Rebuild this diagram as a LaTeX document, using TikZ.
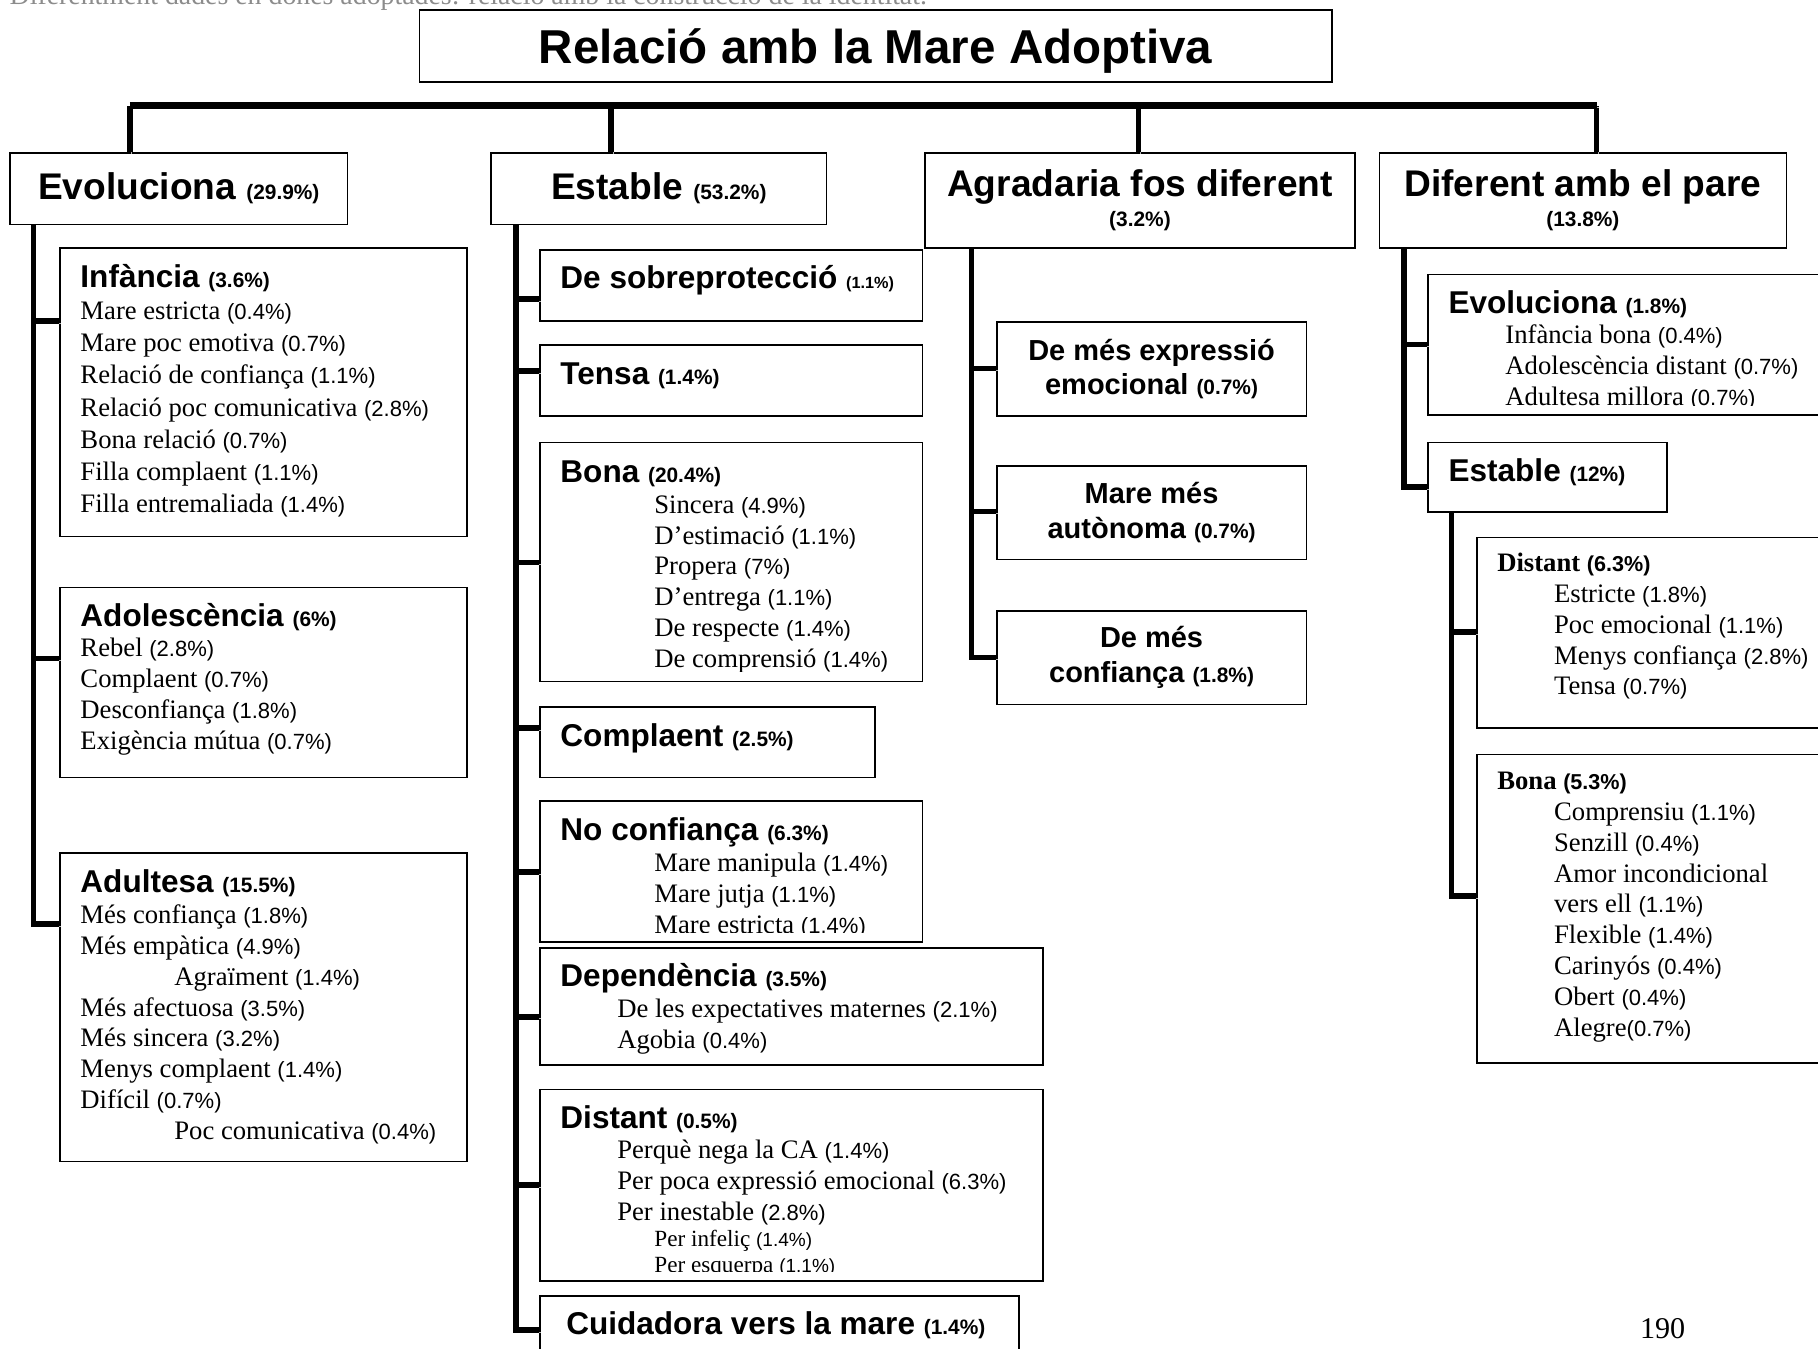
\documentclass[tikz,border=0pt]{standalone}
\usepackage{fontspec}
\setmainfont{Liberation Serif}
\setsansfont{Liberation Sans}
\usetikzlibrary{calc}
\newcommand\bpct[2][9]{{\sffamily\bfseries\fontsize{#1}{#1}\selectfont(#2\%)}}
\newcommand\pct[2][9.5]{{\sffamily\fontsize{#1}{#1}\selectfont(#2\%)}}
\newcommand\hd[3][9]{{\sffamily\bfseries\fontsize{13.6}{13.3}\selectfont#2 \bpct[#1]{#3}}}
\newcommand\shd[2]{{\bfseries#1 \bpct[9.3]{#2}}}
\newcommand\minorline[2]{{\fontsize{10}{10}\selectfont#1 \pct[8.2]{#2}}}
\newcommand\inda{\hspace*{24.5pt}}
\newcommand\indb{\hspace*{40.5pt}}
\tikzset{
    box/.style={draw, line width=0.7pt, anchor=north west, inner sep=0pt},
    wh/.style 2 args={minimum width=#1*0.5pt, minimum height=#2*0.5pt},
    link/.style={line width=2.4pt, preaction={draw=black!30, transform canvas={shift={(0.9pt,-0.9pt)}}}},
    branch/.style={font=\sffamily\bfseries\fontsize{16}{13}\selectfont},
    leaf/.style={font=\sffamily\bfseries\fontsize{12.5}{15}\selectfont, align=center},
    entries/.style={anchor=base west, inner sep=0pt, text width=260pt, align=flush left, font=\fontsize{11.5}{13.3}\selectfont}
}
\begin{document}
\begin{tikzpicture}[x=0.5pt, y=-0.5pt]
\useasboundingbox (0,0) rectangle (1568,1163);

% page header, cut by the page edge
\node[anchor=base west, inner sep=0pt, text=black!45, font=\fontsize{12}{14}\selectfont] (header) at (8,4) {Diferentment dades en dones adoptades: relació amb la construcció de la identitat.};

\node[box, wh={787}{62}, text depth=0pt, font=\sffamily\bfseries\fontsize{20.5}{24}\selectfont] (title) at (361,8) {Relació amb la Mare Adoptiva};

% first level
\node[box, wh={291}{62}, branch] (evo) at (8,131) {Evoluciona \bpct{29.9}};
\node[box, wh={289}{62}, branch] (est) at (423,131) {Estable \bpct{53.2}};
\node[box, wh={371}{82}, branch, align=center] (agr) at (797,131) {Agradaria fos diferent\\\bpct{3.2}};
\node[box, wh={351}{82}, branch, align=center] (dif) at (1189,131) {Diferent amb el pare\\\bpct{13.8}};

% Evoluciona
\node[box, wh={351}{249}] (inf) at (51,213) {};
\node[entries, font=\fontsize{11.5}{13.85}\selectfont] (inf-t) at ($(inf.north west)+(18,35)$) {\hd{Infància}{3.6}\\
    Mare estricta \pct{0.4}\\
    Mare poc emotiva \pct{0.7}\\
    Relació de confiança \pct{1.1}\\
    Relació poc comunicativa \pct{2.8}\\
    Bona relació \pct{0.7}\\
    Filla complaent \pct{1.1}\\
    Filla entremaliada \pct{1.4}};
\node[box, wh={351}{164}] (ado) at (51,506) {};
\node[entries] (ado-t) at ($(ado.north west)+(18,34)$) {\hd{Adolescència}{6}\\
    Rebel \pct{2.8}\\
    Complaent \pct{0.7}\\
    Desconfiança \pct{1.8}\\
    Exigència mútua \pct{0.7}};
\node[box, wh={351}{266}] (adu) at (51,735) {};
\node[entries] (adu-t) at ($(adu.north west)+(18,35)$) {\hd{Adultesa}{15.5}\\
    Més confiança \pct{1.8}\\
    Més empàtica \pct{4.9}\\
    \indb Agraïment \pct{1.4}\\
    Més afectuosa \pct{3.5}\\
    Més sincera \pct{3.2}\\
    Menys complaent \pct{1.4}\\
    Difícil \pct{0.7}\\
    \indb Poc comunicativa \pct{0.4}};

% Estable
\node[box, wh={330}{61}] (sob) at (465,215) {};
\node[entries] (sob-t) at ($(sob.north west)+(18,34)$) {\hd[7]{De sobreprotecció}{1.1}};
\node[box, wh={330}{61}] (ten) at (465,297) {};
\node[entries] (ten-t) at ($(ten.north west)+(18,35)$) {\hd{Tensa}{1.4}};
\node[box, wh={330}{206}] (bon) at (465,381) {};
\begin{scope}
    \clip (bon.north west) rectangle ($(bon.south east)+(0,-9)$);
    \node[entries] (bon-t) at ($(bon.north west)+(18,35)$) {\hd{Bona}{20.4}\\
        \indb Sincera \pct{4.9}\\
        \indb D’estimació \pct{1.1}\\
        \indb Propera \pct{7}\\
        \indb D’entrega \pct{1.1}\\
        \indb De respecte \pct{1.4}\\
        \indb De comprensió \pct{1.4}};
\end{scope}
\node[box, wh={289}{61}] (com) at (465,609) {};
\node[entries] (com-t) at ($(com.north west)+(18,35)$) {\hd{Complaent}{2.5}};
\node[box, wh={330}{122}] (noc) at (465,690) {};
\begin{scope}
    \clip (noc.north west) rectangle ($(noc.south east)+(0,-9)$);
    \node[entries] (noc-t) at ($(noc.north west)+(18,35)$) {\hd{No confiança}{6.3}\\
        \indb Mare manipula \pct{1.4}\\
        \indb Mare jutja \pct{1.1}\\
        \indb Mare estricta \pct{1.4}};
\end{scope}
\node[box, wh={434}{101}] (dep) at (465,817) {};
\node[entries] (dep-t) at ($(dep.north west)+(18,34)$) {\hd{Dependència}{3.5}\\
    \inda De les expectatives maternes \pct{2.1}\\
    \inda Agobia \pct{0.4}};
\node[box, wh={434}{165}] (dis) at (465,939) {};
\begin{scope}
    \clip (dis.north west) rectangle ($(dis.south east)+(0,-9)$);
    \node[entries] (dis-t) at ($(dis.north west)+(18,34)$) {\hd{Distant}{0.5}\\
        \inda Perquè nega la CA \pct{1.4}\\
        \inda Per poca expressió emocional \pct{6.3}\\
        \inda Per inestable \pct{2.8}\\[-2.2pt]
        \indb\minorline{Per infeliç}{1.4}\\[-2.2pt]
        \indb\minorline{Per esquerpa}{1.1}};
\end{scope}
\node[box, wh={413}{80}] (cui) at (465,1117) {};
\node[entries] (cui-t) at ($(cui.north west)+(23,34)$) {\hd{Cuidadora vers la mare}{1.4}};

% Agradaria fos diferent
\node[box, wh={267}{81}, leaf] (ag1) at (859,277) {De més expressió\\emocional \bpct{0.7}};
\node[box, wh={267}{81}, leaf] (ag2) at (859,401) {Mare més\\autònoma \bpct{0.7}};
\node[box, wh={267}{81}, leaf] (ag3) at (859,526) {De més\\confiança \bpct{1.8}};

% Diferent amb el pare
\node[box, wh={400}{121}] (dev) at (1231,236) {};
\begin{scope}
    \clip (dev.north west) rectangle ($(dev.south east)+(0,-9)$);
    \node[entries] (dev-t) at ($(dev.north west)+(18,34)$) {\hd{Evoluciona}{1.8}\\
        \inda Infància bona \pct{0.4}\\
        \inda Adolescència distant \pct{0.7}\\
        \inda Adultesa millora \pct{0.7}};
\end{scope}
\node[box, wh={206}{60}] (des) at (1231,381) {};
\node[entries] (des-t) at ($(des.north west)+(18,34)$) {\hd{Estable}{12}};
\node[box, wh={400}{164}] (ddi) at (1273,463) {};
\node[entries] (ddi-t) at ($(ddi.north west)+(18,30)$) {\shd{Distant}{6.3}\\
    \inda Estricte \pct{1.8}\\
    \inda Poc emocional \pct{1.1}\\
    \inda Menys confiança \pct{2.8}\\
    \inda Tensa \pct{0.7}};
\node[box, wh={400}{266}] (dbo) at (1273,650) {};
\node[entries] (dbo-t) at ($(dbo.north west)+(18,31)$) {\shd{Bona}{5.3}\\
    \inda Comprensiu \pct{1.1}\\
    \inda Senzill \pct{0.4}\\
    \inda Amor incondicional\\
    \inda vers ell \pct{1.1}\\
    \inda Flexible \pct{1.4}\\
    \inda Carinyós \pct{0.4}\\
    \inda Obert \pct{0.4}\\
    \inda Alegre\pct{0.7}};

\node[anchor=base, inner sep=0pt, font=\fontsize{13}{15}\selectfont] (page) at (1434,1154) {190};

% connectors
\coordinate (evo-b) at ($(evo.north west)+(104,0)$);
\coordinate (est-b) at ($(est.north west)+(104,0)$);
\coordinate (agr-b) at ($(agr.north west)+(185,0)$);
\coordinate (dif-b) at ($(dif.north west)+(188,0)$);
\coordinate (bus-l) at ($(evo-b)+(0,-40)$);
\coordinate (bus-r) at ($(dif-b)+(0,-40)$);
\foreach \n in {evo,est,agr,dif}
    \draw[link] (\n-b) -- (\n-b |- bus-l);
\draw[link, line width=2.8pt] (bus-l) -- (bus-r);

\foreach \c/\d in {inf/64,ado/62,adu/62,sob/43,ten/23,bon/104,com/19,noc/62,dep/60,dis/83,cui/30,ag1/41,ag2/40,ag3/41,dev/61,des/39,ddi/82,dbo/123}
    \coordinate (\c-s) at ($(\c.north west)+(0,\d)$);
\coordinate (evo-t) at ($(evo.south west)+(21,0)$);
\coordinate (est-t) at ($(est.south west)+(22,0)$);
\coordinate (agr-t) at ($(agr.south west)+(41,0)$);
\coordinate (dif-t) at ($(dif.south west)+(22,0)$);
\coordinate (des-t) at ($(des.south west)+(21,0)$);

\draw[link] (evo-t) |- (adu-s);
\foreach \c in {inf,ado}
    \draw[link] (evo-t |- \c-s) -- (\c-s);
\draw[link] (est-t) |- (cui-s);
\foreach \c in {sob,ten,bon,com,noc,dep,dis}
    \draw[link] (est-t |- \c-s) -- (\c-s);
\draw[link] (agr-t) |- (ag3-s);
\foreach \c in {ag1,ag2}
    \draw[link] (agr-t |- \c-s) -- (\c-s);
\draw[link] (dif-t) |- (des-s);
\draw[link] (dif-t |- dev-s) -- (dev-s);
\draw[link] (des-t) |- (dbo-s);
\draw[link] (des-t |- ddi-s) -- (ddi-s);
\end{tikzpicture}
\end{document}
